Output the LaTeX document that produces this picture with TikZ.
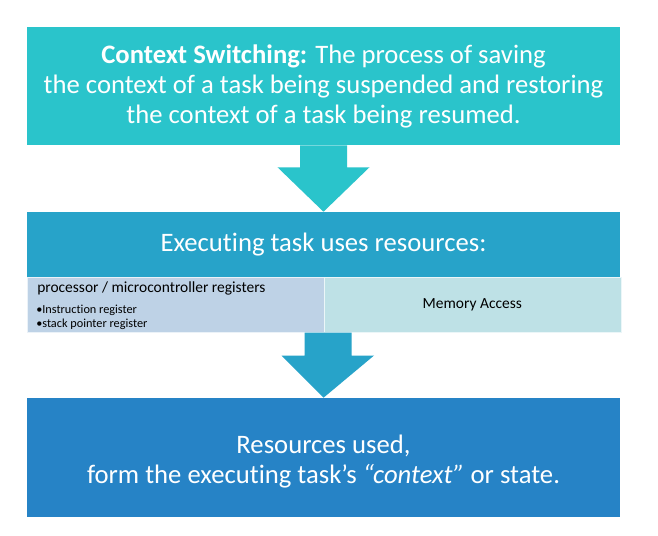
\documentclass[tikz,border=0pt]{standalone}
\usepackage{fontspec}
\setmainfont{Carlito}[Ligatures=NoCommon]
\usetikzlibrary{calc}
\definecolor{tealbox}{HTML}{2AC4CB}
\definecolor{bluebox}{HTML}{27A3C9}
\definecolor{darkbox}{HTML}{2683C6}
\definecolor{steelbox}{HTML}{BED2E6}
\definecolor{cyanbox}{HTML}{BEE1E6}
\tikzset{
  bigbox/.style={fill=#1, draw=none, minimum width=593*0.75pt, inner sep=0pt,
    text=white, align=center, font=\fontsize{20}{22.5}\selectfont},
  subbox/.style={fill=#1, draw=white!70!#1, minimum width=297*0.75pt, minimum height=55*0.75pt, inner sep=0pt},
  blockarrow/.style={fill=#1, draw=none}
}
\begin{document}
\begin{tikzpicture}[x=0.75pt,y=-0.75pt]
\useasboundingbox[fill=white] (0,0) rectangle (658,536);
% boxes
\node[bigbox=tealbox, minimum height=118*0.75pt] (top) at (323.5,86)
  {\textbf{Context Switching:} The process of saving\\
   the context of a task being suspended and restoring\\
   the context of a task being resumed.};
\node[bigbox=bluebox, minimum height=65*0.75pt] (mid) at (323.5,244.5)
  {Executing task uses resources:};
\node[subbox=steelbox, anchor=north west] (proc) at (27,277) {};
\node[subbox=cyanbox, anchor=north west] (mem) at (323.5,277) {};
\node[anchor=north west, inner sep=0pt, align=left, font=\fontsize{11.6}{13}\selectfont] (proctext) at (37,281.5)
  {processor / microcontroller registers};
\node[anchor=north west, inner sep=0pt, align=left, font=\fontsize{9.2}{10.5}\selectfont] (bullets) at (36,305)
  {\textbullet Instruction register\\ \textbullet stack pointer register};
\node[font=\fontsize{11.6}{13}\selectfont] (memtext) at (mem.center) {Memory Access};
\node[bigbox=darkbox, minimum height=119*0.75pt] (bottom) at (323.5,457.5) {};
\node[text=white, align=center, inner sep=0pt, font=\fontsize{20}{22.5}\selectfont] (bottomtext) at ($(bottom.center)+(0,4)$)
  {Resources used,\\ form the executing task's \textit{``context''} or state.};
% arrows
\fill[blockarrow=tealbox] ($(top.south)+(-23.5,0)$) -- ($(top.south)+(23.5,0)$) -- ($(top.south)+(23.5,22)$)
  -- ($(top.south)+(46,22)$) -- (mid.north) -- ($(top.south)+(-46,22)$) -- ($(top.south)+(-23.5,22)$) -- cycle;
\fill[blockarrow=bluebox] ($(proc.south east)+(-20,0)$) -- ($(proc.south east)+(27,0)$) -- ($(proc.south east)+(27,23)$)
  -- ($(proc.south east)+(49.5,23)$) -- (bottom.north) -- ($(proc.south east)+(-43,23)$) -- ($(proc.south east)+(-20,23)$) -- cycle;
\end{tikzpicture}
\end{document}
